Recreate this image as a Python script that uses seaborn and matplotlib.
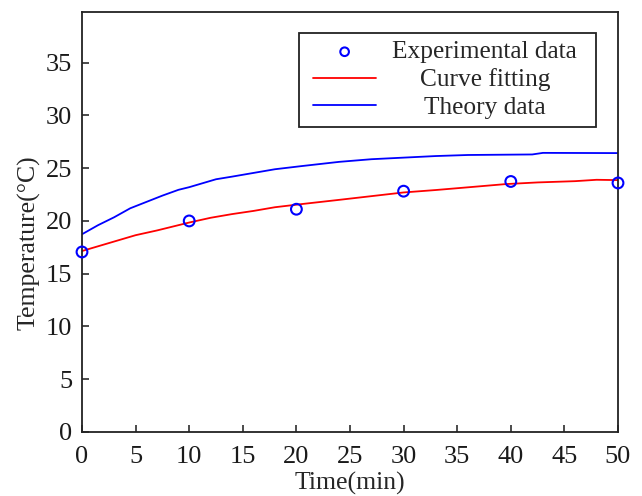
import matplotlib
matplotlib.use("Agg")
import matplotlib.pyplot as plt
from matplotlib.patches import Rectangle
from matplotlib.transforms import Affine2D
import seaborn as sns
import pandas as pd

# Measured temperatures
exp_time = [0, 10, 20, 30, 40, 50]
exp_temp = [17.06, 20.0, 21.11, 22.82, 23.74, 23.6]

# Fitted curve
fit_time = [0, 1.5, 3.5, 5, 7, 9, 10, 12, 14, 16, 18, 20.5, 24, 27, 30, 33,
            36.5, 39.5, 42.5, 46, 48, 50]
fit_temp = [17.15, 17.6, 18.2, 18.65, 19.1, 19.6, 19.85, 20.3, 20.65, 20.95,
            21.3, 21.6, 22.0, 22.35, 22.7, 22.93, 23.23, 23.49, 23.65, 23.77,
            23.9, 23.87]

# Theoretical prediction
theory_time = [0, 1.5, 3, 4.5, 6, 7.5, 9, 10, 11, 12.5, 14, 16, 18, 20.5, 24,
               27, 30, 33, 36, 42, 43, 50]
theory_temp = [18.74, 19.6, 20.35, 21.2, 21.8, 22.4, 22.95, 23.2, 23.5, 23.95,
               24.2, 24.55, 24.9, 25.2, 25.6, 25.85, 26.0, 26.15, 26.25, 26.3,
               26.45, 26.43]

x_ticks = [0, 5, 10, 15, 20, 25, 30, 35, 40, 45, 50]
y_ticks = [0, 5, 10, 15, 20, 25, 30, 35]

labels = ["Experimental data", "Curve fitting", "Theory data"]

sns.set_theme(style="white")
plt.rcParams["font.family"] = ["Liberation Serif", "DejaVu Serif"]

fig = plt.figure(figsize=(6.42, 4.96), dpi=100)
ax = fig.add_axes([82 / 642, 64 / 496, 536 / 642, 420 / 496])

fit_df = pd.DataFrame({"t": fit_time, "T": fit_temp})
th_df = pd.DataFrame({"t": theory_time, "T": theory_temp})
ex_df = pd.DataFrame({"t": exp_time, "T": exp_temp})

sns.lineplot(data=fit_df, x="t", y="T", ax=ax, color="#ff0000", lw=1.3,
             label=labels[1])
sns.lineplot(data=th_df, x="t", y="T", ax=ax, color="#0000ff", lw=1.3,
             label=labels[2])
sns.scatterplot(data=ex_df, x="t", y="T", ax=ax, marker="o", s=60,
                facecolor="none", edgecolor="#0000ff", linewidth=1.5,
                label=labels[0], zorder=5, clip_on=False)

ax.set_xlim(0, 50)
ax.set_ylim(0, 39.8)
ax.set_xticks(x_ticks)
ax.set_yticks(y_ticks)
ax.tick_params(axis="both", direction="in", length=5, width=1.1,
               labelsize=19, top=False, right=False,
               bottom=True, left=True, colors="#1a1a1a")
ax.tick_params(axis="x", pad=10)
ax.tick_params(axis="y", pad=7)
for s in ax.spines.values():
    s.set_linewidth(1.3)
    s.set_color("#222222")

ax.set_xlabel("Time(min)", fontsize=18.5, labelpad=3)
ax.set_ylabel("Temperature(°C)", fontsize=18.5)
ax.yaxis.set_label_coords(-0.077, 0.45)

h, l = ax.get_legend_handles_labels()
order = [l.index(name) for name in labels]
leg = ax.legend([h[i] for i in order], [l[i] for i in order],
                loc="upper right", bbox_to_anchor=(0.938, 0.95),
                borderaxespad=0, fontsize=18.3, frameon=True, fancybox=False,
                handlelength=2.5, handletextpad=0.63,
                labelspacing=0.2, borderpad=0.3, markerscale=0.8)
leg.set_zorder(10)
# the box is drawn separately with wider side margins
leg.legendPatch.set_visible(False)

fig.canvas.draw()
renderer = fig.canvas.get_renderer()

# Center the legend entries within their column
texts = leg.get_texts()
widths = [t.get_window_extent(renderer).width for t in texts]
wmax = max(widths)
for t, w in zip(texts, widths):
    t.set_transform(t.get_transform() + Affine2D().translate((wmax - w) / 2, 0))

# Legend frame: extra room on the left of the handles and right of the text
bb = leg.get_window_extent(renderer)
pad_left, pad_right = 6.5, 11.5
frame = Rectangle((bb.x0 - pad_left, bb.y0), bb.width + pad_left + pad_right,
                  bb.height, transform=None, facecolor="white",
                  edgecolor="#222222", linewidth=1.3, zorder=9, clip_on=False)
ax.add_artist(frame)

fig.savefig("out.png", dpi=100)
